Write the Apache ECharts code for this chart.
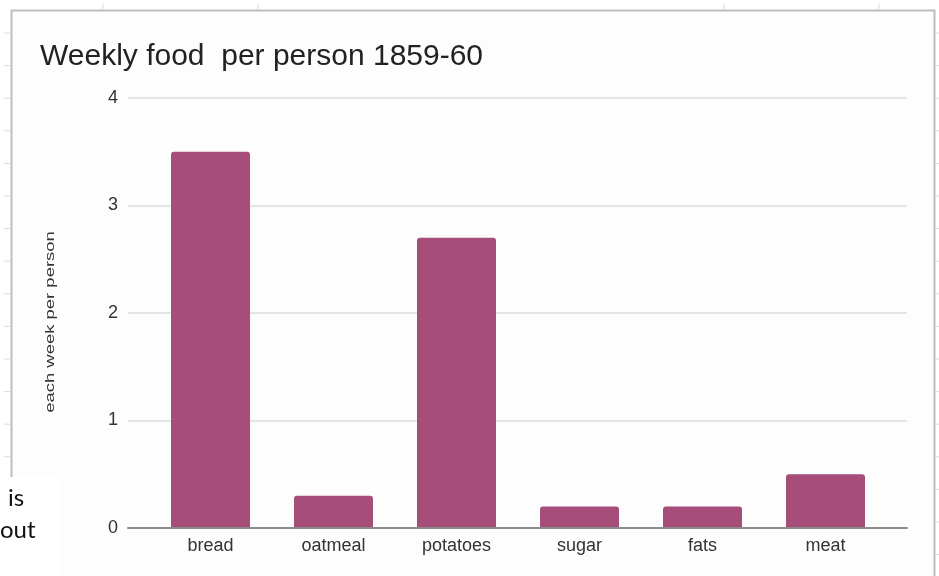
<!DOCTYPE html>
<html>
<head>
<meta charset="utf-8">
<script src="https://cdn.jsdelivr.net/npm/echarts@6/dist/echarts.min.js"></script>
<style>
  html, body { margin: 0; padding: 0; background: #ffffff; }
  #chart { width: 939px; height: 576px; }
</style>
</head>
<body>
<div id="chart"></div>
<script>
  // data
  const categories = ["bread", "oatmeal", "potatoes", "sugar", "fats", "meat"];
  const amounts = [3.5, 0.3, 2.7, 0.2, 0.2, 0.5];
  const yTicks = [0, 1, 2, 3, 4];

  const chart = echarts.init(document.getElementById("chart"));
  const font = "Liberation Sans, Arial, sans-serif";

  // faint spreadsheet cell marks around the chart box
  const sheetMarks = [];
  for (let i = 0; i < 17; i++) {
    const y = 33 + i * 32.6;
    sheetMarks.push({ type: "line", shape: { x1: 4, y1: y, x2: 11, y2: y }, style: { stroke: "#dcdcdc", lineWidth: 1 } });
    sheetMarks.push({ type: "line", shape: { x1: 935, y1: y, x2: 939, y2: y }, style: { stroke: "#dcdcdc", lineWidth: 1 } });
  }
  [103, 258, 724, 879].forEach(function (x) {
    sheetMarks.push({ type: "line", shape: { x1: x, y1: 4, x2: x, y2: 10 }, style: { stroke: "#dcdcdc", lineWidth: 1 } });
  });

  const option = {
    backgroundColor: "#ffffff",
    animation: false,
    title: {
      text: "Weekly food  per person 1859-60",
      left: 35,
      top: 37,
      textStyle: {
        fontFamily: font,
        fontSize: 30,
        fontWeight: "normal",
        color: "#222222",
      },
    },
    graphic: [
      {
        type: "rect",
        z: -10,
        shape: { x: 11.5, y: 10.5, width: 923, height: 620 },
        style: { fill: "#fdfdfd", stroke: "#bdbdbd", lineWidth: 2 },
      },
    ].concat(sheetMarks).concat([
      {
        // y axis title, drawn stretched like the original
        type: "text",
        x: 50,
        y: 322,
        rotation: Math.PI / 2,
        scaleX: 1.42,
        style: {
          text: "each week per person",
          font: "13px " + font,
          fill: "#333333",
          align: "center",
          verticalAlign: "middle",
        },
      },
      {
        type: "rect",
        z: 5,
        shape: { x: 0, y: 477, width: 60, height: 99 },
        style: { fill: "#ffffff" },
      },
      {
        type: "text",
        z: 6,
        x: 8,
        y: 498,
        style: { text: "is", font: "24px Lato, 'Open Sans', sans-serif", fill: "#111111", verticalAlign: "middle" },
      },
      {
        type: "text",
        z: 6,
        x: 0,
        y: 530,
        style: { text: "out", font: "24px Lato, 'Open Sans', sans-serif", fill: "#111111", verticalAlign: "middle" },
      },
    ]),
    grid: [
      // full-width frame: value axis, gridlines and base line
      { left: 128, right: 32, top: 98, bottom: 48 },
      // inner band that holds the bars
      { left: 149, right: 52, top: 98, bottom: 48 },
    ],
    xAxis: [
      {
        type: "category",
        gridIndex: 0,
        data: [""],
        axisTick: { show: false },
        axisLabel: { show: false },
        axisLine: {
          lineStyle: { color: "#8c8c8c", width: 2 },
        },
        z: 5,
      },
      {
        type: "category",
        gridIndex: 1,
        data: categories,
        axisTick: { show: false },
        axisLine: { show: false },
        axisLabel: {
          margin: 9,
          fontSize: 18,
          color: "#333333",
          fontFamily: font,
        },
      },
    ],
    yAxis: [
      {
        type: "value",
        gridIndex: 0,
        min: yTicks[0],
        max: yTicks[yTicks.length - 1],
        interval: 1,
        axisLine: { show: false },
        axisTick: { show: false },
        axisLabel: {
          margin: 10,
          fontSize: 18,
          color: "#333333",
          fontFamily: font,
        },
        splitLine: {
          lineStyle: { color: "#dddddd", width: 1.5 },
        },
      },
      {
        type: "value",
        gridIndex: 1,
        min: yTicks[0],
        max: yTicks[yTicks.length - 1],
        interval: 1,
        show: false,
        splitLine: { show: false },
      },
    ],
    series: [
      {
        type: "bar",
        xAxisIndex: 1,
        yAxisIndex: 1,
        data: amounts,
        barWidth: 79,
        itemStyle: {
          color: "#a64d79",
          borderRadius: [3, 3, 0, 0],
        },
      },
    ],
  };

  chart.setOption(option);
</script>
</body>
</html>
